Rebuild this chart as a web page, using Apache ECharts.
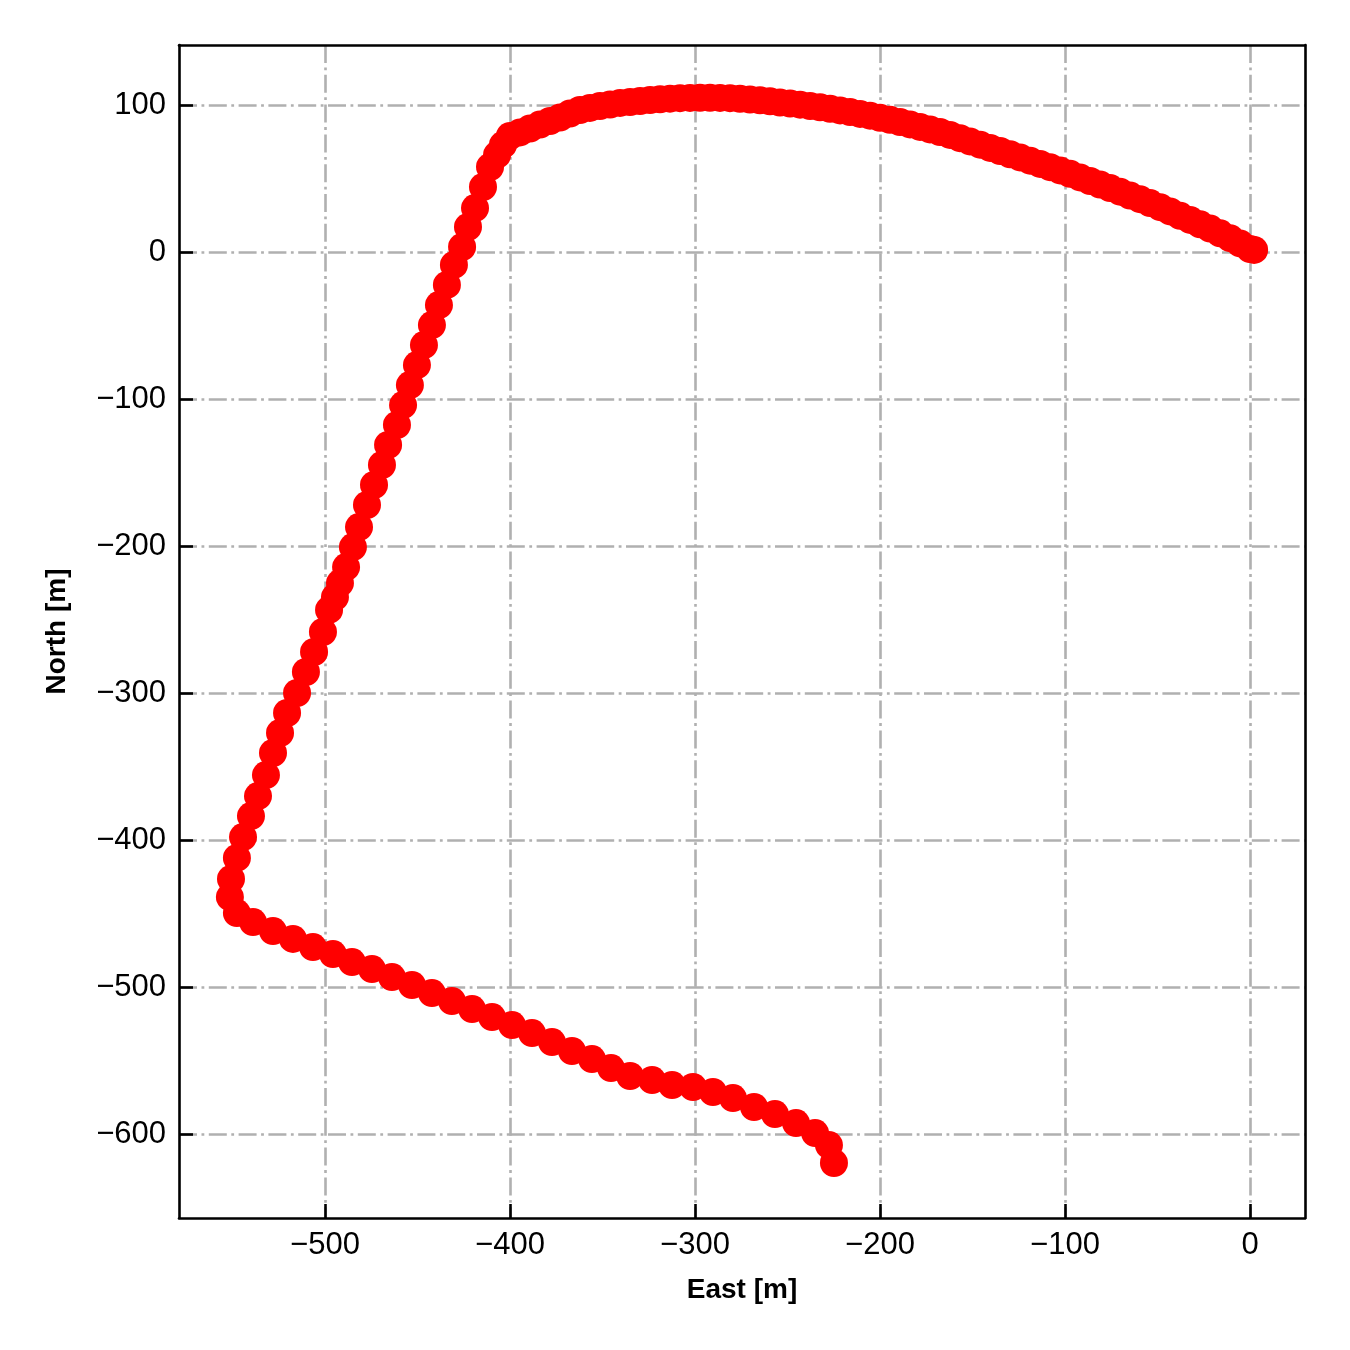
<!DOCTYPE html>
<html>
<head>
<meta charset="utf-8">
<script src="https://cdn.jsdelivr.net/npm/echarts@6/dist/echarts.min.js"></script>
<style>html,body{margin:0;padding:0;background:#fff}#chart{width:1350px;height:1350px}</style>
</head>
<body>
<div id="chart"></div>
<script>
// Segment 1: curved northern leg (dense samples), from the corner to the origin
var eastArc = [-403.8,-400.0,-394.6,-389.2,-383.8,-378.4,-373.0,-367.6,-362.2,-356.8,-351.4,-345.9,-340.5,-335.1,-329.7,-324.3,-318.9,-313.5,-308.1,-302.7,-297.3,-291.9,-286.5,-281.1,-275.7,-270.3,-264.9,-259.5,-254.1,-248.6,-243.2,-237.8,-232.4,-227.0,-221.6,-216.2,-210.8,-205.4,-200.0,-194.6,-189.2,-183.8,-178.4,-173.0,-167.6,-162.2,-156.8,-151.4,-145.9,-140.5,-135.1,-129.7,-124.3,-118.9,-113.5,-108.1,-102.7,-97.3,-91.9,-86.5,-81.1,-75.7,-70.3,-64.9,-59.5,-54.1,-48.6,-43.2,-37.8,-32.4,-27.0,-21.6,-16.2,-10.8,-5.4,0.0,2.2];
var northArc = [72.8,78.9,81.3,84.0,86.7,89.1,91.5,94.2,96.6,98.0,99.3,100.3,101.4,102.0,102.7,103.4,103.9,104.3,104.6,104.8,104.9,104.9,104.8,104.6,104.2,103.7,103.2,102.5,101.7,101.0,100.2,99.3,98.4,97.4,96.3,95.2,93.9,92.7,91.3,89.9,88.4,86.8,85.1,83.4,81.6,79.6,77.4,75.2,73.0,70.8,68.7,66.5,64.3,62.1,59.9,57.7,55.5,53.2,50.7,48.3,45.9,43.5,41.0,38.4,35.9,33.3,30.5,27.6,24.6,21.8,18.8,15.9,12.7,9.4,5.8,2.0,1.4];
// Segment 2: long western leg going south
var eastWest = [-407.0,-410.8,-414.6,-418.9,-422.7,-425.9,-430.3,-434.1,-438.4,-442.2,-446.5,-450.3,-454.1,-457.8,-461.1,-465.9,-469.2,-473.5,-477.3,-481.6,-484.9,-488.6,-491.9,-494.6,-497.8,-501.1,-505.9,-510.3,-515.1,-520.5,-524.3,-528.1,-531.9,-536.2,-540.0,-544.3,-547.6,-550.8,-551.4,-547.6];
var northWest = [66.0,57.8,44.2,29.9,17.0,3.4,-8.8,-22.4,-36.1,-49.7,-63.3,-76.9,-90.5,-104.1,-117.7,-131.3,-144.9,-158.5,-172.1,-187.1,-200.7,-214.3,-225.2,-234.7,-243.5,-258.5,-272.1,-285.7,-300.0,-313.6,-327.2,-340.8,-355.8,-370.1,-383.7,-398.0,-412.2,-426.5,-438.8,-449.7];
// Segment 3: south-eastern leg
var eastSouth = [-538.9,-528.1,-517.3,-506.5,-495.7,-485.4,-474.6,-463.8,-453.0,-442.2,-431.4,-420.5,-409.7,-398.9,-388.1,-377.3,-366.5,-355.7,-345.4,-335.1,-323.2,-312.4,-301.1,-290.3,-279.5,-268.1,-256.8,-245.4,-235.1,-227.6,-224.9];
var northSouth = [-455.8,-461.9,-467.3,-472.8,-477.6,-483.0,-487.8,-493.2,-498.6,-504.1,-509.5,-515.0,-520.4,-525.9,-531.3,-537.4,-543.5,-549.0,-555.1,-560.5,-563.3,-566.7,-568.0,-571.4,-575.5,-581.6,-586.4,-592.5,-599.3,-607.5,-619.7];

var xName = 'East [m]';
var yName = 'North [m]';

function pairs(xs, ys) { var out = []; for (var i = 0; i < xs.length; i++) out.push([xs[i], ys[i]]); return out; }
var points = pairs(eastArc, northArc).concat(pairs(eastWest, northWest), pairs(eastSouth, northSouth));

var FONT = 'Liberation Sans, Arial, Helvetica, sans-serif';
var gridLine = { show: true, showMinLine: false, showMaxLine: false, lineStyle: { color: '#b0b0b0', width: 2.6, type: [18, 4.5, 2.8, 4.5] } };
var axisLine = { show: true, onZero: false, lineStyle: { color: '#000', width: 2.6 } };

var chart = echarts.init(document.getElementById('chart'), null, { renderer: 'canvas' });
chart.setOption({
  backgroundColor: '#fff',
  animation: false,
  grid: { left: 179, right: 45, top: 45, bottom: 132, containLabel: false },
  xAxis: [{
    type: 'value', min: -578.9, max: 29.7, splitNumber: 6, minInterval: 100, maxInterval: 100,
    name: xName, nameLocation: 'middle', nameGap: 58,
    nameTextStyle: { fontFamily: FONT, fontWeight: 'bold', fontSize: 28, color: '#000' },
    axisLine: axisLine,
    axisTick: { show: true, inside: true, length: 14, lineStyle: { color: '#000', width: 2.6 } },
    axisLabel: { showMinLabel: false, showMaxLabel: false, margin: 12, fontFamily: FONT, fontSize: 31, color: '#000',
      formatter: function (v) { return String(v).replace('-', '\u2212'); } },
    splitLine: gridLine
  }, {
    type: 'value', position: 'top', min: -578.9, max: 29.7,
    axisLine: axisLine, axisTick: { show: false }, axisLabel: { show: false }, splitLine: { show: false }
  }],
  yAxis: [{
    type: 'value', min: -657.1, max: 140.8, splitNumber: 8, minInterval: 100, maxInterval: 100,
    name: yName, nameLocation: 'middle', nameGap: 108,
    nameTextStyle: { fontFamily: FONT, fontWeight: 'bold', fontSize: 28, color: '#000' },
    axisLine: axisLine,
    axisTick: { show: true, inside: true, length: 14, lineStyle: { color: '#000', width: 2.6 } },
    axisLabel: { showMinLabel: false, showMaxLabel: false, margin: 13, fontFamily: FONT, fontSize: 31, color: '#000',
      formatter: function (v) { return String(v).replace('-', '\u2212'); } },
    splitLine: gridLine
  }, {
    type: 'value', position: 'right', min: -657.1, max: 140.8,
    axisLine: axisLine, axisTick: { show: false }, axisLabel: { show: false }, splitLine: { show: false }
  }],
  series: [{
    type: 'scatter', xAxisIndex: 0, yAxisIndex: 0,
    data: points, symbol: 'circle', symbolSize: 28,
    itemStyle: { color: '#ff0000', opacity: 1 }, z: 5
  }]
});
</script>
</body>
</html>
